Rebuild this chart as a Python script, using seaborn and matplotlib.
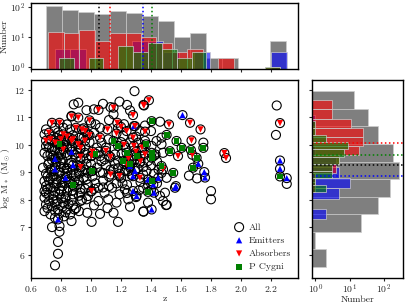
import numpy as np
import pandas as pd
import matplotlib
matplotlib.use("Agg")
import matplotlib.pyplot as plt
from matplotlib.ticker import NullLocator
import seaborn as sns

# plain sources (no outflow class) -- z, log M*
z_plain = [1.29, 0.915, 0.885, 0.97, 1.02, 1.08, 1.13, 1.19, 1.24, 1.26, 1.15, 0.87, 0.84, 0.70, 0.76,
           0.815, 0.86, 1.03, 1.06, 1.18, 1.326, 1.46, 0.69, 0.77, 0.715, 0.855, 0.95, 0.98, 1.02, 1.07,
           1.115, 1.215, 1.26, 1.315, 1.36, 1.404, 1.437, 1.47, 1.47, 1.749, 0.69, 0.73, 0.79, 0.84, 0.90,
           0.96, 1.06, 1.09, 1.16, 1.204, 1.18, 1.326, 1.38, 1.43, 1.48, 0.68, 0.715, 0.75, 0.79, 0.84,
           0.90, 0.95, 0.98, 1.04, 1.08, 1.15, 1.226, 1.26, 1.348, 1.47, 1.504, 0.73, 0.69, 0.69, 0.73,
           0.77, 0.80, 0.85, 0.93, 0.98, 1.05, 1.09, 1.14, 1.19, 1.226, 1.348, 1.46, 1.493, 1.48, 1.50,
           0.69, 0.70, 0.75, 0.74, 0.78, 0.815, 0.84, 0.86, 0.87, 0.69, 0.73, 0.76, 0.93, 0.97, 1.05,
           1.115, 1.17, 1.248, 0.92, 0.975, 1.06, 1.15, 1.35, 1.004, 1.18, 0.74, 0.79, 0.79, 0.78, 0.78,
           0.76, 1.80, 1.80, 1.653, 1.707, 1.349, 1.505, 2.238, 2.233, 2.305,
           0.72, 0.74, 0.76, 0.78, 0.80, 0.82, 0.74, 0.71, 0.77, 0.81, 0.75, 0.79, 0.72, 0.83, 0.77,
           0.88, 0.86, 0.89, 0.92, 0.94, 0.87, 0.91, 0.93, 0.89, 0.97, 1.00, 1.01, 1.03, 1.00, 0.96,
           1.08, 1.10, 1.12, 1.12, 1.17, 1.20, 1.22, 1.24, 1.27, 1.29, 1.31, 1.33, 1.37, 1.40, 1.42,
           1.44, 1.30, 1.34, 1.23, 1.20, 1.10, 1.04, 0.99, 0.95, 1.00, 1.12, 1.22, 1.40, 1.36, 0.82,
           0.86, 0.92, 0.84, 0.80, 0.73, 0.78, 0.94, 1.02, 1.11, 1.26, 1.30, 1.40, 1.44, 1.38, 1.16,
           1.07, 0.88, 0.82, 0.90, 0.70,
           0.70, 0.71, 0.72, 0.73, 0.70, 0.72, 0.71, 0.70, 0.72, 0.71,
           0.75, 0.74, 0.75, 0.77, 0.76, 0.75, 0.77, 0.76, 0.75, 0.77, 0.76,
           0.79, 0.80, 0.79, 0.81, 0.80, 0.79, 0.80, 0.81, 0.79, 0.80, 0.81, 0.79,
           0.83, 0.84, 0.83, 0.85, 0.84, 0.83, 0.85, 0.84, 0.83, 0.85, 0.83,
           0.88, 0.87, 0.89, 0.88, 0.87, 0.89, 0.88, 0.87, 0.89,
           0.92, 0.91, 0.93, 0.92, 0.91, 0.93, 0.92,
           0.96, 0.97, 0.96, 0.97, 0.98,
           1.00, 1.01, 1.02, 1.05, 1.06, 1.08, 1.12, 1.13, 1.18, 1.19, 1.21, 1.25, 1.28, 1.33, 1.35,
           1.38, 1.42, 1.45, 1.32, 1.24]
m_plain = [11.95, 11.53, 11.47, 11.26, 11.29, 11.49, 11.37, 11.57, 11.45, 11.25, 11.11, 11.05, 10.74, 10.56, 10.62,
           10.62, 10.56, 10.74, 10.62, 10.60, 10.50, 10.84, 10.38, 10.26, 10.02, 10.26, 10.26, 10.38, 10.44, 10.08,
           10.20, 10.32, 10.08, 10.08, 10.14, 9.96, 10.14, 10.26, 10.02, 10.08, 9.71, 9.65, 9.71, 9.63, 9.53,
           9.71, 9.59, 9.47, 9.65, 9.68, 9.43, 9.35, 9.41, 9.65, 9.71, 9.17, 9.29, 8.92, 8.98, 9.05,
           8.92, 8.80, 8.98, 9.17, 8.98, 9.11, 9.05, 9.17, 8.92, 8.98, 8.80, 8.80, 8.68, 8.32, 8.44,
           8.56, 8.32, 8.44, 8.26, 8.14, 8.44, 8.26, 8.44, 8.20, 8.38, 8.44, 8.14, 8.26, 7.96, 7.81,
           8.08, 7.83, 8.02, 7.77, 7.65, 7.90, 7.65, 7.47, 7.23, 7.59, 7.47, 7.35, 7.96, 8.02, 7.96,
           8.02, 7.90, 8.02, 7.59, 7.53, 7.49, 7.53, 7.57, 7.20, 7.20, 7.01, 7.05, 6.84, 6.47, 6.04,
           5.62, 8.32, 8.02, 8.88, 8.78, 7.58, 7.82, 11.43, 10.36, 8.58,
           9.90, 9.45, 9.80, 9.55, 9.35, 9.15, 9.05, 8.85, 8.75, 8.62, 8.45, 8.20, 8.18, 8.05, 7.95,
           8.20, 8.68, 8.48, 8.70, 9.05, 9.35, 9.25, 9.85, 10.05, 9.50, 9.30, 8.85, 8.60, 8.30, 8.40,
           8.70, 9.25, 8.85, 8.50, 8.60, 8.80, 9.30, 8.55, 8.90, 9.45, 9.15, 8.65, 9.05, 9.25, 8.95,
           9.40, 10.30, 9.80, 9.90, 10.10, 9.90, 9.90, 10.10, 10.60, 10.80, 10.90, 10.75, 10.50, 10.70, 10.00,
           9.85, 9.05, 8.85, 9.65, 10.20, 10.45, 8.00, 7.80, 7.70, 7.75, 8.10, 8.35, 8.60, 7.90, 9.30,
           9.40, 7.80, 7.40, 7.70, 8.50,
           9.95, 9.60, 9.35, 9.10, 8.95, 8.70, 8.40, 8.25, 7.95, 7.70,
           10.30, 9.85, 9.60, 9.38, 9.25, 8.85, 8.62, 8.30, 8.15, 7.85, 7.60,
           10.35, 9.95, 9.80, 9.45, 9.20, 9.00, 8.75, 8.50, 8.40, 8.05, 7.75, 7.50,
           10.15, 9.90, 9.70, 9.30, 9.15, 8.95, 8.65, 8.30, 8.10, 7.85, 7.55,
           10.35, 9.95, 9.65, 9.10, 8.90, 8.70, 8.35, 8.00, 7.65,
           10.25, 9.70, 9.45, 8.95, 8.55, 8.40, 8.15,
           9.95, 9.30, 9.10, 8.75, 8.55,
           9.60, 9.05, 8.40, 9.75, 9.00, 8.45, 9.60, 9.10, 9.15, 8.95, 8.60, 9.05, 9.60, 9.60, 9.20,
           8.55, 9.60, 9.10, 8.35, 8.25]

z_emit = [1.286, 1.61, 0.76, 0.87, 0.76, 0.83, 0.88, 1.28, 1.293, 1.38, 1.415, 1.448, 1.28, 1.304,
          1.42, 1.566, 1.404, 0.78, 1.715, 1.755, 1.76, 2.26, 2.26, 2.305, 1.26, 1.56]
m_emit = [10.68, 11.08, 9.49, 9.75, 9.11, 8.80, 9.26, 8.86, 9.05, 8.74, 8.56, 8.80, 8.32, 8.14,
          8.26, 8.50, 7.65, 7.29, 9.31, 9.01, 8.81, 9.43, 9.13, 8.79, 9.23, 8.44]

z_abs = [1.05, 1.15, 1.28, 1.35, 1.386, 1.353, 0.915, 0.87, 0.74, 0.79, 0.90, 0.94, 0.96, 0.99, 1.11,
         1.175, 1.237, 1.293, 1.36, 1.52, 1.66, 1.73, 0.72, 0.73, 0.80, 0.815, 0.76, 0.87, 0.88, 0.915,
         0.93, 1.06, 1.17, 1.28, 1.286, 1.67, 0.815, 0.93, 1.004, 1.13, 1.237, 1.36, 1.58, 1.675, 0.93,
         1.13, 1.19, 1.326, 1.48, 1.004, 1.889, 1.90, 2.26, 0.70, 0.78, 0.84, 0.96, 0.99, 1.01, 1.10,
         1.22, 1.30, 1.34, 1.20, 1.25, 1.33]
m_abs = [11.27, 11.35, 11.08, 11.45, 11.62, 11.43, 10.99, 11.03, 10.80, 10.80, 10.62, 10.56, 10.50, 10.89, 10.56,
         10.80, 10.50, 10.68, 10.48, 10.74, 10.80, 10.56, 10.44, 10.20, 10.20, 10.38, 10.08, 10.14, 10.20, 10.02,
         9.89, 10.26, 10.41, 10.26, 9.96, 10.16, 9.83, 9.56, 9.59, 9.56, 9.29, 9.65, 9.59, 9.64, 9.19,
         8.92, 8.86, 8.80, 9.11, 8.32, 9.70, 9.52, 10.79, 10.15, 10.05, 10.30, 10.15, 10.35, 9.75, 9.78,
         10.00, 9.75, 9.90, 10.65, 9.50, 9.40]

z_pcyg = [1.404, 0.79, 1.15, 1.18, 1.366, 1.504, 1.57, 1.604, 1.749, 1.03, 1.237, 1.215, 1.26, 1.304,
          1.404, 1.404, 1.526, 1.666, 1.704, 1.68, 1.548, 1.47, 1.004, 1.404, 0.88, 1.38, 2.26]
m_pcyg = [10.86, 10.02, 10.14, 9.96, 10.02, 10.36, 10.14, 9.89, 9.89, 9.68, 9.71, 9.41, 9.29, 9.59,
          9.71, 9.53, 9.77, 9.81, 9.53, 9.17, 8.98, 9.23, 9.05, 8.68, 8.54, 8.29, 8.85]

# redshift histograms (per-sample bin range, 15 bins)
zbins_all, zcount_all = (0.70, 2.30), [105, 77, 66, 57, 70, 60, 51, 34, 10, 13, 2, 2, 0, 0, 7]
zbins_emit, zcount_emit = (0.76, 2.305), [4, 4, 0, 0, 0, 7, 7, 3, 0, 3, 0, 0, 0, 0, 3]
zbins_abs, zcount_abs = (0.716, 2.26), [14, 13, 17, 7, 13, 13, 10, 6, 3, 4, 0, 2, 0, 0, 1]
zbins_pcyg, zcount_pcyg = (0.789, 2.26), [2, 0, 2, 0, 5, 3, 6, 4, 2, 3, 0, 0, 0, 0, 1]

# stellar mass histograms (10 bins, low -> high)
mbins_all, mcount_all = (5.57, 11.94), [2, 1, 21, 68, 149, 272, 186, 68, 35, 13]
mbins_emit, mcount_emit = (7.29, 11.08), [2, 0, 5, 10, 5, 4, 1, 0, 0, 1]
mbins_abs, mcount_abs = (8.30, 11.62), [1, 1, 4, 5, 19, 25, 24, 11, 3, 3]
mbins_pcyg, mcount_pcyg = (8.29, 10.86), [2, 1, 3, 3, 5, 7, 9, 2, 1, 1]

# medians
z_med = {"All": 1.05, "Emitters": 1.345, "Absorbers": 1.127, "P Cygni": 1.404}
m_med = {"All": 9.25, "Emitters": 8.85, "Absorbers": 10.08, "P Cygni": 9.64}

sns.set_theme(style="ticks")
plt.rcParams["font.family"] = "serif"
plt.rcParams["font.serif"] = ["cmr10", "DejaVu Serif"]
plt.rcParams["mathtext.fontset"] = "cm"
plt.rcParams["axes.formatter.use_mathtext"] = True
plt.rcParams["axes.linewidth"] = 1.0
plt.rcParams["axes.edgecolor"] = "black"

colors = {"All": "black", "Emitters": "blue", "Absorbers": "red", "P Cygni": "green"}

fig = plt.figure(figsize=(4.07, 3.05), dpi=100)
ax = fig.add_axes([0.0762, 0.0885, 0.656, 0.6505])
ax_top = fig.add_axes([0.0762, 0.773, 0.656, 0.216])
ax_right = fig.add_axes([0.767, 0.0885, 0.223, 0.6505])

df_all = pd.DataFrame({"z": z_plain + z_emit + z_abs + z_pcyg,
                       "m": m_plain + m_emit + m_abs + m_pcyg})

sns.scatterplot(data=df_all, x="z", y="m", ax=ax, marker="o", s=42,
                facecolor="none", edgecolor="black", linewidth=0.8, label="All")
sns.scatterplot(x=z_emit, y=m_emit, ax=ax, marker="^", s=20, color="blue",
                edgecolor="none", label="Emitters")
sns.scatterplot(x=z_abs, y=m_abs, ax=ax, marker="v", s=20, color="red",
                edgecolor="none", label="Absorbers")
sns.scatterplot(x=z_pcyg, y=m_pcyg, ax=ax, marker="s", s=18, color="green",
                edgecolor="none", label="P Cygni")

ax.set_xlim(0.6, 2.38)
ax.set_ylim(5.16, 12.37)
ax.set_xticks([0.6, 0.8, 1.0, 1.2, 1.4, 1.6, 1.8, 2.0, 2.2])
ax.set_yticks([6, 7, 8, 9, 10, 11, 12])
ax.set_xlabel("z", fontsize=7, labelpad=1)
ax.set_ylabel(r"log M$_*$ (M$_\odot$)", fontsize=7, labelpad=1)
ax.legend(loc="lower right", frameon=False, fontsize=7, handletextpad=0.0,
          labelspacing=0.45, borderaxespad=0.3, markerscale=1.0)

z_sets = [(zbins_all, zcount_all, "All"), (zbins_emit, zcount_emit, "Emitters"),
          (zbins_abs, zcount_abs, "Absorbers"), (zbins_pcyg, zcount_pcyg, "P Cygni")]
m_sets = [(mbins_all, mcount_all, "All"), (mbins_emit, mcount_emit, "Emitters"),
          (mbins_abs, mcount_abs, "Absorbers"), (mbins_pcyg, mcount_pcyg, "P Cygni")]

for (lo, hi), counts, name in z_sets:
    edges = list(np.linspace(lo, hi, len(counts) + 1))
    hd = pd.DataFrame({"v": [0.5 * (edges[i] + edges[i + 1]) for i in range(len(counts))],
                       "w": counts})
    sns.histplot(data=hd, x="v", weights="w", bins=edges, ax=ax_top,
                 color=colors[name], alpha=0.5 if name == "All" else 0.6,
                 edgecolor="#cccccc", linewidth=0.5)

for (lo, hi), counts, name in m_sets:
    edges = list(np.linspace(lo, hi, len(counts) + 1))
    hd = pd.DataFrame({"v": [0.5 * (edges[i] + edges[i + 1]) for i in range(len(counts))],
                       "w": counts})
    sns.histplot(data=hd, y="v", weights="w", bins=edges, ax=ax_right,
                 color=colors[name], alpha=0.5 if name == "All" else 0.6,
                 edgecolor="#cccccc", linewidth=0.5)

for name in ["All", "Absorbers", "Emitters", "P Cygni"]:
    ax_top.axvline(z_med[name], color=colors[name], ls=":", lw=1.1)
    ax_right.axhline(m_med[name], color=colors[name], ls=":", lw=1.1)

ax_top.set_yscale("log")
ax_top.set_xlim(0.6, 2.38)
ax_top.set_ylim(0.82, 130)
ax_top.set_xticks([0.6, 0.8, 1.0, 1.2, 1.4, 1.6, 1.8, 2.0, 2.2])
ax_top.yaxis.set_minor_locator(NullLocator())
ax_top.tick_params(labelbottom=False)
ax_top.set_ylabel("Number", fontsize=7, labelpad=1)
ax_top.set_xlabel("")

ax_right.set_xscale("log")
ax_right.set_ylim(5.16, 12.37)
ax_right.set_xlim(0.81, 355)
ax_right.set_yticks([6, 7, 8, 9, 10, 11, 12])
ax_right.xaxis.set_minor_locator(NullLocator())
ax_right.tick_params(labelleft=False)
ax_right.set_ylabel("")

for a in (ax, ax_top, ax_right):
    a.tick_params(direction="out", length=2.5, width=0.8, labelsize=7, pad=1.5)
    for sp in a.spines.values():
        sp.set_visible(True)
        sp.set_linewidth(1.0)
ax_right.tick_params(axis="x", pad=0.5)
ax_right.set_xlabel("Number", fontsize=7, labelpad=0)

fig.savefig("out.png", dpi=100)
